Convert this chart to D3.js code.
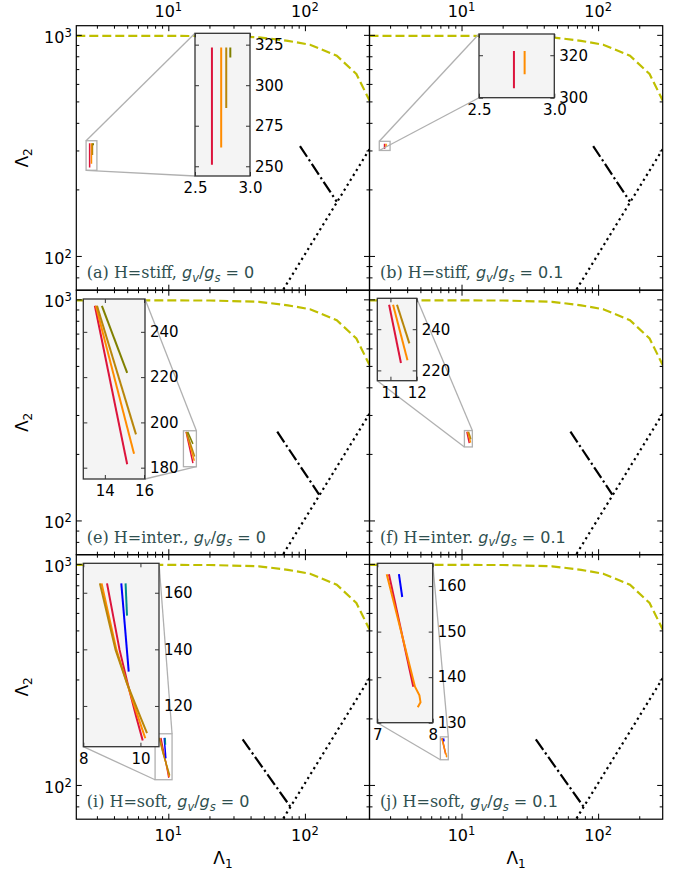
<!DOCTYPE html>
<html>
<head>
<meta charset="utf-8">
<script src="https://cdn.jsdelivr.net/npm/d3@7"></script>
<style>
body { margin: 0; background: #fff; }
</style>
</head>
<body>
<svg id="chart" width="678" height="875"></svg>
<script>
// main axes (log-log), same limits in every panel
var xLim = [2.12, 297];
var yLim = [70, 1100];
var xMajor = [10, 100];
var xMinor = [3, 4, 5, 6, 7, 8, 9, 20, 30, 40, 50, 60, 70, 80, 90, 200];
var yMajor = [100, 1000];
var yMinor = [80, 90, 200, 300, 400, 500, 600, 700, 800, 900];

// curves shared by all panels
var upperCurve = [[2.12, 990], [20, 988], [46, 975], [75, 940], [109, 902], [171, 805], [238, 665], [297, 505]];
var diagonal = [[66, 67], [300, 307]];
// dash-dot curve, one per row (stiff, inter., soft)
var dashDotRows = [
    [[92, 314], [171, 176]],
    [[62.7, 252], [127, 131]],
    [[35, 160.6], [78.5, 79.5]]
];

// panel texts
var panelIds = ['a', 'b', 'e', 'f', 'i', 'j'];
var panelEos = ['H=stiff, ', 'H=stiff, ', 'H=inter., ', 'H=inter. ', 'H=soft, ', 'H=soft, '];
var panelRatio = ['0', '0.1', '0', '0.1', '0', '0.1'];

// zoomed insets
var insetXLim = [[2.5, 3.0], [2.5, 3.0], [12.9, 16.05], [10.5, 12], [8, 10.65], [7, 8]];
var insetYLim = [[244, 332], [300, 330], [175, 254.5], [215, 255], [105.6, 170.4], [130, 165]];
var insetXTicks = [[2.5, 3.0], [2.5, 3.0], [14, 16], [11, 12], [8, 10], [7, 8]];
var insetYTicks = [[250, 275, 300, 325], [300, 320], [180, 200, 220, 240], [220, 240], [120, 140, 160], [130, 140, 150, 160]];

// [series index, points] for each panel
var insetSeries = [
    [
        [0, [[2.654, 323.3], [2.654, 251]]],
        [1, [[2.738, 323.3], [2.738, 261.5]]],
        [2, [[2.784, 323.3], [2.784, 286]]],
        [3, [[2.821, 323.3], [2.821, 317]]]
    ],
    [
        [0, [[2.732, 322], [2.732, 304.4]]],
        [1, [[2.803, 322], [2.803, 311]]]
    ],
    [
        [0, [[13.49, 251.5], [15.14, 181.5]]],
        [1, [[13.54, 251.5], [15.49, 186.2]]],
        [2, [[13.6, 251.5], [15.59, 194.7]]],
        [3, [[13.85, 251.5], [15.14, 221.9]]]
    ],
    [
        [0, [[10.95, 251.9], [11.4, 223.6]]],
        [1, [[11.1, 251.9], [11.65, 224.9]]],
        [2, [[11.25, 251.9], [11.72, 233.1]]]
    ],
    [
        [0, [[8.83, 163.3], [9.27, 139.8], [9.55, 128], [9.85, 116.3], [10.08, 107.8]]],
        [1, [[8.64, 163.3], [9.16, 139.8], [9.53, 128], [9.91, 116.3], [10.17, 108.6]]],
        [2, [[8.58, 163.3], [9.13, 139.8], [9.53, 128], [9.99, 116.3], [10.23, 110.4]]],
        [4, [[9.33, 163.3], [9.59, 132.1]]],
        [5, [[9.48, 163.3], [9.53, 151.9]]]
    ],
    [
        [0, [[7.21, 162.6], [7.65, 137.9]]],
        [1, [[7.17, 162.6], [7.68, 137.9], [7.76, 136.0], [7.78, 134.5], [7.73, 133.4]]],
        [4, [[7.39, 162.6], [7.45, 157.6]]]
    ]
];

// ---- layout & styles ----
var seriesColor = ['#dc143c', '#ff8c00', '#b8860b', '#808000', '#0000ff', '#008b8b'];
var colX = [76.3, 369.5], colW = 293.2;
var rowY = [25.7, 290.2, 554.7], rowH = 264.5;
// inset box inside its panel: left, top, width, height
var insetBox = [[118.7, 7.6, 55, 142.7], [109.5, 8.3, 75.3, 63.7], [7, 8.8, 61.7, 180],
                [7.8, 8.1, 39.4, 82.4], [7, 8.6, 75.7, 183.4], [7.8, 8.6, 55.4, 159.4]];
var insetCorners = [['ul', 'll'], ['ul', 'll'], ['ur', 'lr'], ['ur', 'll'], ['ur', 'll'], ['ur', 'll']];
var sans = 'DejaVu Sans, sans-serif';

var svg = d3.select('#chart');

var x = d3.scaleLog().domain(xLim).range([0, colW]);
var y = d3.scaleLog().domain(yLim).range([rowH, 0]);
var line = d3.line().x(function (d) { return x(d[0]); }).y(function (d) { return y(d[1]); });

function styleAxis(a, col) {
    a.select('.domain').remove();
    a.selectAll('line').attr('stroke', col).attr('stroke-width', 1);
}

// 10^n label
function powLabel(t, exp) {
    t.append('tspan').text('10');
    t.append('tspan').attr('dy', -6).style('font-size', '11.5px').text(exp);
}

function mainTicks(g) {
    [[xMajor, 5.5], [xMinor, 3]].forEach(function (t) {
        styleAxis(g.append('g').attr('transform', 'translate(0,' + rowH + ')')
            .call(d3.axisBottom(x).tickValues(t[0]).tickSize(-t[1]).tickFormat('')), '#000');
        styleAxis(g.append('g')
            .call(d3.axisTop(x).tickValues(t[0]).tickSize(-t[1]).tickFormat('')), '#000');
    });
    [[yMajor, 5.5], [yMinor, 3]].forEach(function (t) {
        styleAxis(g.append('g')
            .call(d3.axisLeft(y).tickValues(t[0]).tickSize(-t[1]).tickFormat('')), '#000');
        styleAxis(g.append('g').attr('transform', 'translate(' + colW + ',0)')
            .call(d3.axisRight(y).tickValues(t[0]).tickSize(-t[1]).tickFormat('')), '#000');
    });
}

function panelLabel(g, i) {
    var t = g.append('text')
        .attr('x', 10.5).attr('y', rowH - 11.7)
        .attr('fill', '#2f4f4f')
        .style('font-family', sans).style('font-size', '16px');
    t.append('tspan').style('font-family', 'DejaVu Serif, serif').text('(' + panelIds[i] + ') ' + panelEos[i]);
    t.append('tspan').style('font-style', 'italic').text('g');
    t.append('tspan').attr('dy', 3.5).style('font-size', '11.5px').style('font-style', 'italic').text('v');
    t.append('tspan').attr('dy', -3.5).text('/');
    t.append('tspan').style('font-style', 'italic').text('g');
    t.append('tspan').attr('dy', 3.5).style('font-size', '11.5px').style('font-style', 'italic').text('s');
    t.append('tspan').attr('dy', -3.5).text(' = ' + panelRatio[i]);
}

function drawInset(g, i) {
    var box = insetBox[i];
    var xl = insetXLim[i], yl = insetYLim[i];

    // marked region in the main axes + connectors
    var rx0 = x(xl[0]), rx1 = x(xl[1]), ry0 = y(yl[1]), ry1 = y(yl[0]);
    g.append('rect')
        .attr('x', rx0).attr('y', ry0)
        .attr('width', rx1 - rx0).attr('height', ry1 - ry0)
        .attr('fill', 'none').attr('stroke', '#b0b0b0').attr('stroke-width', 1.3);
    var rc = { ul: [rx0, ry0], ur: [rx1, ry0], ll: [rx0, ry1], lr: [rx1, ry1] };
    var ic = {
        ul: [box[0], box[1]], ur: [box[0] + box[2], box[1]],
        ll: [box[0], box[1] + box[3]], lr: [box[0] + box[2], box[1] + box[3]]
    };
    insetCorners[i].forEach(function (c) {
        g.append('line')
            .attr('x1', rc[c][0]).attr('y1', rc[c][1])
            .attr('x2', ic[c][0]).attr('y2', ic[c][1])
            .attr('stroke', '#b0b0b0').attr('stroke-width', 1.3);
    });

    var ix = d3.scaleLinear().domain(xl).range([0, box[2]]);
    var iy = d3.scaleLinear().domain(yl).range([box[3], 0]);
    var iline = d3.line().x(function (d) { return ix(d[0]); }).y(function (d) { return iy(d[1]); });
    var fmt = insetXTicks[i].some(function (v) { return v % 1 !== 0; }) ? d3.format('.1f') : d3.format('d');

    var ig = g.append('g').attr('transform', 'translate(' + box[0] + ',' + box[1] + ')');
    ig.append('rect').attr('width', box[2]).attr('height', box[3]).attr('fill', '#f4f4f4');
    var cid = 'iclip-' + panelIds[i];
    ig.append('clipPath').attr('id', cid).append('rect').attr('width', box[2]).attr('height', box[3]);
    var ip = ig.append('g').attr('clip-path', 'url(#' + cid + ')');
    insetSeries[i].forEach(function (s) {
        ip.append('path').attr('d', iline(s[1]))
            .attr('fill', 'none').attr('stroke', seriesColor[s[0]]).attr('stroke-width', 2);
    });

    var axB = ig.append('g').attr('transform', 'translate(0,' + box[3] + ')')
        .call(d3.axisBottom(ix).tickValues(insetXTicks[i]).tickSize(-4).tickPadding(6.5).tickFormat(fmt));
    var axT = ig.append('g').call(d3.axisTop(ix).tickValues(insetXTicks[i]).tickSize(-4).tickFormat(''));
    var axL = ig.append('g').call(d3.axisLeft(iy).tickValues(insetYTicks[i]).tickSize(-4).tickFormat(''));
    var axR = ig.append('g').attr('transform', 'translate(' + box[2] + ',0)')
        .call(d3.axisRight(iy).tickValues(insetYTicks[i]).tickSize(-4).tickPadding(5).tickFormat(d3.format('d')));
    [axB, axT, axL, axR].forEach(function (a) {
        styleAxis(a, '#333');
        a.selectAll('text').attr('fill', '#000').style('font-family', sans).style('font-size', '15px');
    });

    ig.append('rect').attr('width', box[2]).attr('height', box[3])
        .attr('fill', 'none').attr('stroke', '#333').attr('stroke-width', 1.3);
}

panelIds.forEach(function (id, i) {
    var row = Math.floor(i / 2), col = i % 2;
    var g = svg.append('g').attr('transform', 'translate(' + colX[col] + ',' + rowY[row] + ')');

    g.append('clipPath').attr('id', 'clip-' + id)
        .append('rect').attr('width', colW).attr('height', rowH);
    var plot = g.append('g').attr('clip-path', 'url(#clip-' + id + ')');

    plot.append('path').attr('d', line(upperCurve))
        .attr('fill', 'none').attr('stroke', '#bfbf00').attr('stroke-width', 2.2)
        .attr('stroke-dasharray', '9,4');
    plot.append('path').attr('d', line(diagonal))
        .attr('fill', 'none').attr('stroke', '#000').attr('stroke-width', 2.2)
        .attr('stroke-dasharray', '2.2,3.6');
    plot.append('path').attr('d', line(dashDotRows[row]))
        .attr('fill', 'none').attr('stroke', '#000').attr('stroke-width', 2.2)
        .attr('stroke-dasharray', '12.8,3.2,2.2,3.2');
    insetSeries[i].forEach(function (s) {
        plot.append('path').attr('d', line(s[1]))
            .attr('fill', 'none').attr('stroke', seriesColor[s[0]]).attr('stroke-width', 1.5);
    });

    mainTicks(g);
    g.append('rect').attr('width', colW).attr('height', rowH)
        .attr('fill', 'none').attr('stroke', '#000').attr('stroke-width', 1.2);

    panelLabel(g, i);
    drawInset(g, i);

    // tick labels
    if (col === 0) {
        yMajor.forEach(function (v) {
            var t = g.append('text').attr('x', -4.5).attr('y', y(v) + 8)
                .attr('text-anchor', 'end').attr('fill', '#000')
                .style('font-family', sans).style('font-size', '16px');
            powLabel(t, Math.round(Math.log10(v)));
        });
        g.append('text')
            .attr('transform', 'translate(' + (28 - colX[0]) + ',' + rowH / 2 + ') rotate(-90)')
            .attr('text-anchor', 'middle').attr('fill', '#000')
            .style('font-family', sans).style('font-size', '17px')
            .call(function (t) {
                t.append('tspan').text('Λ');
                t.append('tspan').attr('dy', 4).style('font-size', '12px').text('2');
            });
    }
    if (row === 0) {
        xMajor.forEach(function (v) {
            var t = g.append('text').attr('x', x(v)).attr('y', -8.5)
                .attr('text-anchor', 'middle').attr('fill', '#000')
                .style('font-family', sans).style('font-size', '16px');
            powLabel(t, Math.round(Math.log10(v)));
        });
    }
    if (row === 2) {
        xMajor.forEach(function (v) {
            var t = g.append('text').attr('x', x(v)).attr('y', rowH + 21.5)
                .attr('text-anchor', 'middle').attr('fill', '#000')
                .style('font-family', sans).style('font-size', '16px');
            powLabel(t, Math.round(Math.log10(v)));
        });
        g.append('text')
            .attr('x', colW / 2).attr('y', rowH + 45)
            .attr('text-anchor', 'middle').attr('fill', '#000')
            .style('font-family', sans).style('font-size', '17px')
            .call(function (t) {
                t.append('tspan').text('Λ');
                t.append('tspan').attr('dy', 4).style('font-size', '12px').text('1');
            });
    }
});
</script>
</body>
</html>
